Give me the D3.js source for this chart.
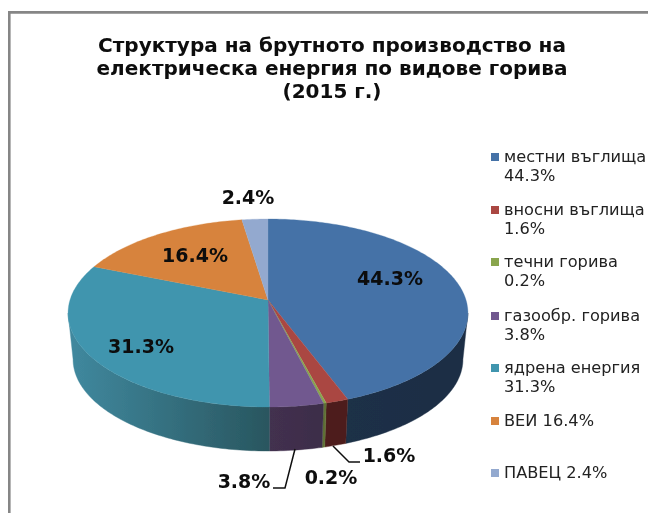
<!DOCTYPE html>
<html><head><meta charset="utf-8">
<script src="https://cdn.jsdelivr.net/npm/d3@7"></script>
<style>html,body{margin:0;padding:0;background:#fff}svg{display:block}</style>
</head><body><div id="c"></div>
<script>
const categories=["местни въглища","вносни въглища","течни горива","газообр. горива","ядрена енергия","ВЕИ","ПАВЕЦ"];
const values=[44.3,1.6,0.2,3.8,31.3,16.4,2.4];
const colors=["#4572a7","#aa4643","#89a54e","#71588f","#4095ae","#d7833c","#93a9cf"];
const sideLeft=["#1d3047","#4e1f1c","#5e7034","#43304f","#40899f","#d7833c","#93a9cf"];
const sideRight=["#1b2d44","#4e1f1c","#5e7034","#3c2d49","#29565f","#d7833c","#93a9cf"];
const legendLines=[["местни въглища","44.3%"],["вносни въглища","1.6%"],["течни горива","0.2%"],["газообр. горива","3.8%"],["ядрена енергия","31.3%"],["ВЕИ 16.4%"],["ПАВЕЦ 2.4%"]];
const legendY=[157,210,262,316,368,421,473];
const titleLines=["Структура на брутното производство на","електрическа енергия по видове горива","(2015 г.)"];
const labelPos=[[390,278],null,null,null,[141,346],[195,255],[248,197]];
const outside=[{t:"1.6%",x:389,y:455,l:[[333,446],[349,462],[360,462]]},{t:"0.2%",x:331,y:477},{t:"3.8%",x:244,y:481,l:[[295,449],[285,488],[273,488]]}];

const W=648,H=513,font="'DejaVu Sans',Verdana,sans-serif";
const svg=d3.select("#c").append("svg").attr("width",W).attr("height",H);
const defs=svg.append("defs");
defs.append("filter").attr("id","soft").attr("filterUnits","userSpaceOnUse")
  .attr("x",0).attr("y",0).attr("width",W).attr("height",H)
  .append("feGaussianBlur").attr("stdDeviation",0.45);
svg.append("path").attr("d","M648,12.4H9.3V513").attr("fill","none").attr("stroke","#868686").attr("stroke-width",2.6);
const root=svg.append("g").attr("filter","url(#soft)");

const cx=268,y0=300,R=198,H0=92.2,k=0.1383,depth=44,shrink=0.975;
function proj(a,bottom){
  const yf=-Math.cos(a),s=1/(1-k*yf),f=bottom?shrink:1;
  const x=cx+R*Math.sin(a)*s*f;
  const y=y0+H0*yf*s*f+(bottom?depth+107*(1-f):0);
  return [x,y];
}
const pie=d3.pie().sort(null).value(d=>d).startAngle(0).endAngle(2*Math.PI);
const arcs=pie(values);
const line=d3.line();
function samples(a0,a1){const n=Math.max(2,Math.ceil((a1-a0)*60));return d3.range(n+1).map(i=>a0+(a1-a0)*i/n);}

// visible side walls, between the two silhouette points of the projected disc
const rimStart=Math.acos(-k),rimEnd=2*Math.PI-rimStart;
const sides=root.append("g");
arcs.forEach((d,i)=>{
  const a0=Math.max(d.startAngle,rimStart),a1=Math.min(d.endAngle,rimEnd);
  if(a1<=a0)return;
  const top=samples(a0,a1).map(a=>proj(a,false));
  const bot=samples(a0,a1).reverse().map(a=>proj(a,true));
  const id="side"+i,xs=top.concat(bot).map(p=>p[0]);
  const g=defs.append("linearGradient").attr("id",id).attr("gradientUnits","userSpaceOnUse")
    .attr("x1",d3.min(xs)).attr("x2",d3.max(xs)).attr("y1",0).attr("y2",0);
  g.append("stop").attr("offset",0).attr("stop-color",sideLeft[i]);
  g.append("stop").attr("offset",1).attr("stop-color",sideRight[i]);
  sides.append("path").attr("d",line(top.concat(bot))+"Z").attr("fill",`url(#${id})`).attr("stroke",`url(#${id})`).attr("stroke-width",.4);
});
// top face
const faces=root.append("g");
arcs.forEach((d,i)=>{
  const pts=[[cx,y0]].concat(samples(d.startAngle,d.endAngle).map(a=>proj(a,false)));
  faces.append("path").attr("d",line(pts)+"Z").attr("fill",colors[i]).attr("stroke",colors[i]).attr("stroke-width",.3);
});
// leader lines
outside.filter(o=>o.l).forEach(o=>root.append("path").attr("d",line(o.l)).attr("fill","none").attr("stroke","#111").attr("stroke-width",1.5));
// data labels
const lab=(t,x,y)=>root.append("text").attr("x",x).attr("y",y).attr("text-anchor","middle").attr("font-family",font).attr("font-weight","bold").attr("font-size",19).attr("fill","#0a0a0a").text(t);
values.forEach((v,i)=>{if(labelPos[i])lab(v.toFixed(1)+"%",labelPos[i][0],labelPos[i][1]+7);});
outside.forEach(o=>lab(o.t,o.x,o.y+7));
// title
titleLines.forEach((t,i)=>root.append("text").attr("x",332).attr("y",[52,75,98][i]).attr("text-anchor","middle").attr("font-family",font).attr("font-weight","bold").attr("font-size",20).attr("fill","#0a0a0a").text(t));
// legend
const lg=root.append("g");
legendLines.forEach((ls,i)=>{
  lg.append("rect").attr("x",491).attr("y",legendY[i]-4).attr("width",8).attr("height",8).attr("fill",colors[i]);
  ls.forEach((t,j)=>lg.append("text").attr("x",504).attr("y",legendY[i]+5+j*19).attr("font-family",font).attr("font-size",16.2).attr("fill","#222").text(t));
});
</script></body></html>
